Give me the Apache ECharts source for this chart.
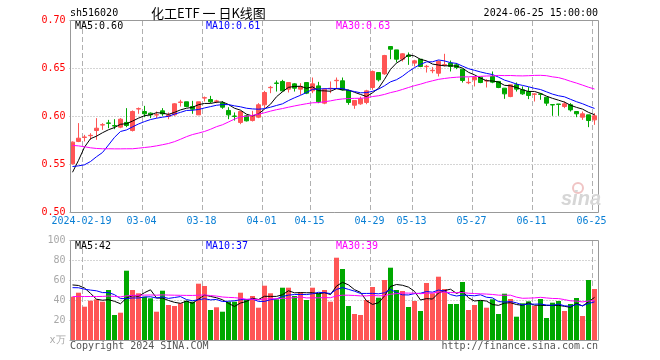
<!DOCTYPE html>
<html>
<head>
<meta charset="utf-8">
<script src="https://cdn.jsdelivr.net/npm/echarts/dist/echarts.min.js"></script>
<style>
html,body{margin:0;padding:0;background:#fff;}
#c{width:660px;height:360px;}
</style>
</head>
<body>
<div id="c"></div>
<script>
// ---- data ----
const dates = ['02-07','02-08','02-19','02-20','02-21','02-22','02-23','02-26','02-27','02-28',
'02-29','03-01','03-04','03-05','03-06','03-07','03-08','03-11','03-12','03-13',
'03-14','03-15','03-18','03-19','03-20','03-21','03-22','03-25','03-26','03-27',
'03-28','03-29','04-01','04-02','04-03','04-08','04-09','04-10','04-11','04-12',
'04-15','04-16','04-17','04-18','04-19','04-22','04-23','04-24','04-25','04-26',
'04-29','04-30','05-06','05-07','05-08','05-09','05-10','05-13','05-14','05-15',
'05-16','05-17','05-20','05-21','05-22','05-23','05-24','05-27','05-28','05-29',
'05-30','05-31','06-03','06-04','06-05','06-06','06-07','06-11','06-12','06-13',
'06-14','06-17','06-18','06-19','06-20','06-21','06-24','06-25'];

const opens = [0.5507,0.5740,0.5782,0.5800,0.5854,0.5911,0.5933,0.5905,0.5889,0.5938,
0.5854,0.6078,0.6052,0.6035,0.6015,0.6059,0.6000,0.6017,0.6147,0.6153,
0.6104,0.6017,0.6192,0.6177,0.6158,0.6142,0.6063,0.6005,0.5938,0.6007,
0.5958,0.5993,0.6122,0.6300,0.6349,0.6365,0.6285,0.6340,0.6285,0.6354,
0.6267,0.6319,0.6139,0.6290,0.6373,0.6372,0.6271,0.6118,0.6132,0.6146,
0.6302,0.6458,0.6444,0.6729,0.6694,0.6597,0.6639,0.6556,0.6597,0.6519,
0.6477,0.6451,0.6536,0.6556,0.6538,0.6493,0.6352,0.6382,0.6410,0.6370,
0.6417,0.6365,0.6295,0.6208,0.6330,0.6278,0.6260,0.6231,0.6235,0.6201,
0.6124,0.6130,0.6104,0.6122,0.6052,0.5993,0.6017,0.5965];

const closes = [0.5733,0.5774,0.5786,0.5804,0.5878,0.5915,0.5929,0.5901,0.5972,0.5906,
0.6052,0.6082,0.6028,0.6017,0.6019,0.6028,0.6017,0.6132,0.6151,0.6104,
0.6076,0.6153,0.6196,0.6153,0.6162,0.6097,0.6017,0.6001,0.6052,0.5955,
0.6007,0.6122,0.6250,0.6304,0.6345,0.6267,0.6354,0.6295,0.6313,0.6243,
0.6340,0.6153,0.6285,0.6294,0.6377,0.6278,0.6146,0.6167,0.6184,0.6267,
0.6469,0.6382,0.6635,0.6701,0.6597,0.6653,0.6625,0.6580,0.6521,0.6523,
0.6481,0.6573,0.6540,0.6521,0.6510,0.6375,0.6356,0.6406,0.6354,0.6374,
0.6358,0.6302,0.6236,0.6330,0.6285,0.6236,0.6219,0.6235,0.6231,0.6139,
0.6120,0.6126,0.6132,0.6069,0.6028,0.6028,0.5958,0.6007];

const lows = [0.5500,0.5733,0.5740,0.5757,0.5757,0.5861,0.5878,0.5868,0.5878,0.5889,
0.5844,0.6028,0.5993,0.5983,0.5983,0.6007,0.5972,0.6007,0.6104,0.6097,
0.6028,0.6017,0.6156,0.6139,0.6139,0.6080,0.5972,0.5958,0.5920,0.5948,
0.5948,0.5983,0.6087,0.6243,0.6260,0.6260,0.6250,0.6260,0.6226,0.6233,
0.6243,0.6139,0.6128,0.6243,0.6285,0.6271,0.6122,0.6080,0.6122,0.6128,
0.6278,0.6365,0.6434,0.6597,0.6563,0.6573,0.6538,0.6521,0.6514,0.6458,
0.6451,0.6417,0.6521,0.6469,0.6493,0.6354,0.6337,0.6313,0.6347,0.6302,
0.6347,0.6295,0.6184,0.6201,0.6260,0.6226,0.6181,0.6156,0.6174,0.6111,
0.6007,0.6007,0.6087,0.6052,0.5993,0.5965,0.5889,0.5913];

const highs = [0.5740,0.5931,0.5809,0.5826,0.5983,0.5931,0.5965,0.5972,0.5983,0.6087,
0.6063,0.6094,0.6111,0.6042,0.6052,0.6087,0.6042,0.6139,0.6174,0.6153,
0.6163,0.6153,0.6208,0.6215,0.6174,0.6160,0.6097,0.6042,0.6059,0.6017,
0.6059,0.6139,0.6267,0.6319,0.6375,0.6382,0.6354,0.6347,0.6347,0.6354,
0.6406,0.6361,0.6295,0.6365,0.6406,0.6406,0.6278,0.6167,0.6208,0.6278,
0.6479,0.6458,0.6642,0.6729,0.6694,0.6660,0.6667,0.6590,0.6597,0.6538,
0.6514,0.6583,0.6653,0.6583,0.6556,0.6493,0.6406,0.6417,0.6410,0.6389,
0.6469,0.6365,0.6295,0.6330,0.6354,0.6313,0.6306,0.6243,0.6243,0.6201,
0.6124,0.6130,0.6156,0.6139,0.6052,0.6052,0.6017,0.6035];

const volumes = [43.3,47.3,33.3,39.3,40.7,38.3,50,25,27.3,69.3,
50,46.7,43.3,41.7,28.3,49.3,35,34,36.7,39.3,
38.3,56.3,54,30,32.7,28.3,38.3,38.3,47.3,40.7,
44,32.3,54.3,46.7,40.7,52.3,52.3,44,47.7,40,
52.3,46.7,50,38.3,82.3,71,34,26,25,40,
53,42.3,60,72.3,50,49,33,39,29,57,
46.7,63.3,51,36,36,58,30,35,39.3,32.3,
40.7,26,46.3,41,23.3,36.7,38.7,34,41,22,
37.3,39,29,36,42,24,60,51];

// sessions before the visible window (estimated so the averages start where the picture shows)
const priorCloses = [0.592,0.606,0.615,0.608,0.600,0.594,0.591,0.597,0.590,0.603,
0.590,0.584,0.580,0.572,0.566,0.562,0.558,0.540,0.530,0.540,
0.571,0.567,0.547,0.537,0.548,0.515,0.510,0.536,0.575];
const priorVolumes = [36,40,38,42,35,37,39,41,36,38,40,42,37,35,39,41,38,40,42,40,
48,48,48,48,56,50,46,66,70];

const dateTicks = ['2024-02-19','03-04','03-18','04-01','04-15','04-29','05-13','05-27','06-11','06-25'];
const priceLegend = ['MA5:0.60','MA10:0.61','MA30:0.63'];
const volLegend = ['MA5:42','MA10:37','MA30:39'];

// ---- derived ----
const UP = '#ff5555', DOWN = '#00a800';
const MONO = '"DejaVu Sans Mono", "Liberation Mono", monospace';
const tickIdx = dateTicks.map(t => dates.indexOf(t.slice(-5)));
const showTick = (i) => tickIdx.indexOf(i) >= 0;

function movingAvg(prior, vis, n) {
  const all = prior.concat(vis), off = prior.length;
  return vis.map((_, i) => {
    let s = 0;
    for (let k = 0; k < n; k++) s += all[off + i - k];
    return +(s / n).toFixed(4);
  });
}
const kData = dates.map((d, i) => [opens[i], closes[i], lows[i], highs[i]]);
const volData = volumes.map((v, i) => ({value: v, itemStyle: {color: closes[i] >= opens[i] ? UP : DOWN}}));

const GL = 69.5, GW = 528;
const BAND = GW / dates.length;
const xBase = {
  type: 'category', data: dates, boundaryGap: true,
  axisLine: {show: false}, axisTick: {show: false}, splitLine: {show: false}
};

function txt(x, y, text, color, font, align) {
  return {type: 'text', x: x, y: y, z: 100, silent: true,
    style: {text: text, fill: color, font: font, align: align || 'left', verticalAlign: 'middle'}};
}

const chart = echarts.init(document.getElementById('c'), null, {renderer: 'canvas'});
chart.setOption({
  animation: false,
  backgroundColor: '#fff',
  grid: [
    {left: GL, top: 20.5, width: GW, height: 192, show: false},
    {left: GL, top: 240, width: GW, height: 100, show: false}
  ],
  xAxis: [
    Object.assign({}, xBase, {gridIndex: 0,
      axisLabel: {show: true, interval: (i) => showTick(i), color: '#0a7fd4', fontFamily: MONO, fontSize: 10,
        margin: 4, padding: [0, 6, 0, 0],
        formatter: (v, i) => { const k = tickIdx.indexOf(i); return k >= 0 ? dateTicks[k] : ''; }}}),
    Object.assign({}, xBase, {gridIndex: 1, axisLabel: {show: false}})
  ],
  yAxis: [
    {type: 'value', gridIndex: 0, min: 0.5, max: 0.7, interval: 0.05,
     axisLine: {show: false}, axisTick: {show: false},
     axisLabel: {color: '#ff0000', fontFamily: MONO, fontSize: 10, margin: 4, formatter: v => v.toFixed(2)},
     splitLine: {show: true, lineStyle: {color: '#aaaaaa', width: 1, type: [1, 2]}}},
    {type: 'value', gridIndex: 1, min: 0, max: 100, interval: 20,
     axisLine: {show: false}, axisTick: {show: false},
     axisLabel: {color: '#a8a8a8', fontFamily: MONO, fontSize: 10, margin: 4, formatter: v => v === 0 ? 'x万' : String(v)},
     splitLine: {show: true, lineStyle: {color: '#aaaaaa', width: 1, type: [1, 2]}}}
  ],
  series: [
    {type: 'candlestick', xAxisIndex: 0, yAxisIndex: 0, data: kData, barWidth: 4,
     itemStyle: {color: UP, color0: DOWN, borderColor: UP, borderColor0: DOWN, borderWidth: 1}, z: 2},
    {type: 'line', xAxisIndex: 0, yAxisIndex: 0, data: movingAvg(priorCloses, closes, 5), symbol: 'none',
     lineStyle: {color: '#000000', width: 1}, z: 5},
    {type: 'line', xAxisIndex: 0, yAxisIndex: 0, data: movingAvg(priorCloses, closes, 10), symbol: 'none',
     lineStyle: {color: '#0000ff', width: 1}, z: 5},
    {type: 'line', xAxisIndex: 0, yAxisIndex: 0, data: movingAvg(priorCloses, closes, 30), symbol: 'none',
     lineStyle: {color: '#ff00ff', width: 1}, z: 5},
    {type: 'bar', xAxisIndex: 1, yAxisIndex: 1, data: volData, barWidth: 5, z: 2},
    {type: 'line', xAxisIndex: 1, yAxisIndex: 1, data: movingAvg(priorVolumes, volumes, 5), symbol: 'none',
     lineStyle: {color: '#000000', width: 1}, z: 5},
    {type: 'line', xAxisIndex: 1, yAxisIndex: 1, data: movingAvg(priorVolumes, volumes, 10), symbol: 'none',
     lineStyle: {color: '#0000ff', width: 1}, z: 5},
    {type: 'line', xAxisIndex: 1, yAxisIndex: 1, data: movingAvg(priorVolumes, volumes, 30), symbol: 'none',
     lineStyle: {color: '#ff00ff', width: 1}, z: 5}
  ]
});

// dashed vertical separators at the left edge of each labelled session
const graphics = [];
tickIdx.forEach(function (idx) {
  let c = NaN;
  try { c = Number(chart.convertToPixel({xAxisIndex: 0}, idx)); } catch (e) { c = NaN; }
  if (!isFinite(c)) c = GL + BAND * (idx + 0.5);
  const x = Math.round(c - BAND / 2) + 0.5;
  graphics.push({type: 'line', z: 1,
    shape: {x1: x, y1: 21, x2: x, y2: 212},
    style: {stroke: '#b0b0b0', lineWidth: 1, lineDash: [5, 3]}});
  graphics.push({type: 'line', z: 1,
    shape: {x1: x, y1: 241, x2: x, y2: 340},
    style: {stroke: '#b0b0b0', lineWidth: 1, lineDash: [5, 3]}});
});
graphics.push(
  {type: 'rect', z: 90, silent: true, shape: {x: 70.5, y: 20.5, width: 528, height: 192}, style: {fill: null, stroke: '#999', lineWidth: 1}},
  {type: 'rect', z: 90, silent: true, shape: {x: 70.5, y: 240.5, width: 528, height: 100}, style: {fill: null, stroke: '#999', lineWidth: 1}},
  txt(70, 13, 'sh516020', '#000', '10px ' + MONO),
  txt(151, 13, '化工ETF 一 日K线图', '#000', '13px "Noto Sans CJK SC", sans-serif'),
  txt(598, 13, '2024-06-25 15:00:00', '#000', '10px ' + MONO, 'right'),
  txt(75, 26.5, priceLegend[0], '#000000', '10px ' + MONO),
  txt(206, 26.5, priceLegend[1], '#0000ff', '10px ' + MONO),
  txt(336, 26.5, priceLegend[2], '#ff00ff', '10px ' + MONO),
  txt(75, 246, volLegend[0], '#000000', '10px ' + MONO),
  txt(206, 246, volLegend[1], '#0000ff', '10px ' + MONO),
  txt(336, 246, volLegend[2], '#ff00ff', '10px ' + MONO),
  txt(70, 346, 'Copyright 2024 SINA.COM', '#555', '10px ' + MONO),
  txt(598, 346, 'http://finance.sina.com.cn', '#555', '10px ' + MONO, 'right'),
  {type: 'circle', silent: true, shape: {cx: 578, cy: 188, r: 5}, style: {fill: null, stroke: '#f0c4c4', lineWidth: 2}},
  txt(581, 199, 'sina', '#d6d6d6', 'italic bold 20px "Liberation Sans", Arial, sans-serif', 'center')
);
chart.setOption({graphic: graphics});
</script>
</body>
</html>
